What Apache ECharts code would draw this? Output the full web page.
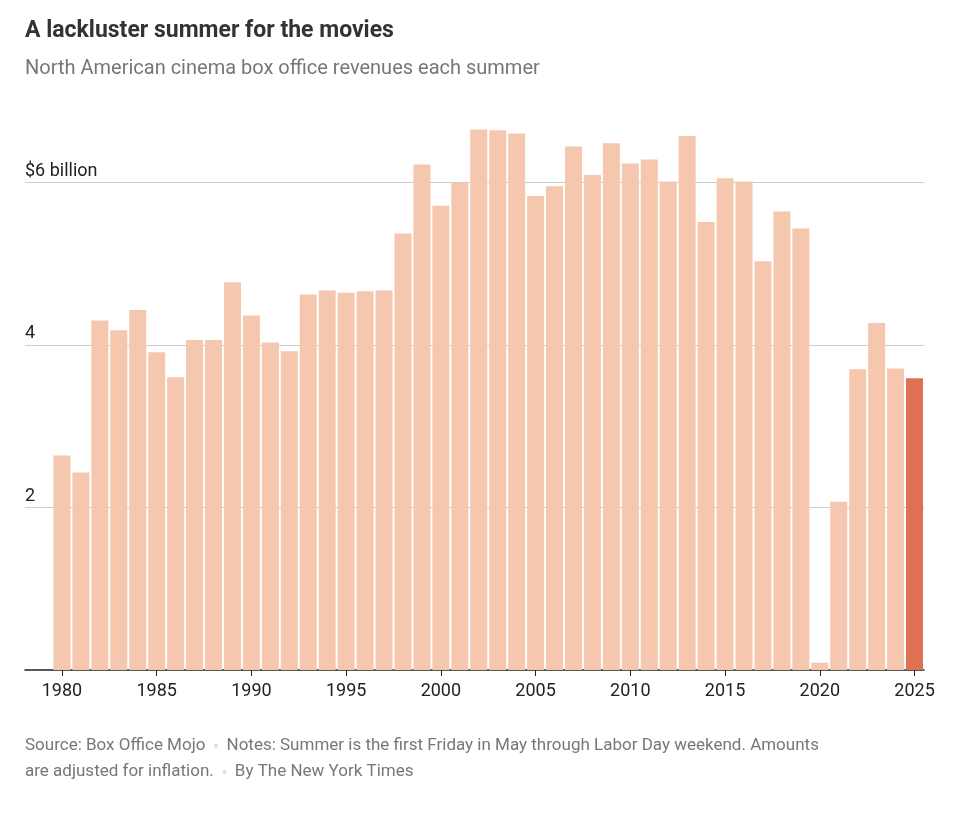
<!DOCTYPE html>
<html>
<head>
<meta charset="utf-8">
<script src="https://cdn.jsdelivr.net/npm/echarts@6/dist/echarts.min.js"></script>
<style>
  html, body { margin: 0; padding: 0; background: #fff; }
  #chart { width: 970px; height: 814px; }
</style>
</head>
<body>
<div id="chart"></div>
<script>
// summer box office, billions (inflation-adjusted)
const years = [];
for (let y = 1980; y <= 2025; y++) years.push(y);
const revenues = [
    2.64, 2.43, 4.30, 4.18, 4.43, 3.91, 3.60, 4.06, 4.06, 4.77,
    4.36, 4.03, 3.92, 4.62, 4.67, 4.64, 4.66, 4.67, 5.37, 6.22,
    5.71, 6.00, 6.65, 6.64, 6.60, 5.83, 5.95, 6.44, 6.09, 6.48,
    6.23, 6.28, 6.01, 6.57, 5.51, 6.05, 6.01, 5.03, 5.64, 5.43,
    0.09, 2.07, 3.70, 4.27, 3.71, 3.59,
];
const xTicks = [1980, 1985, 1990, 1995, 2000, 2005, 2010, 2015, 2020, 2025];
const yTicks = [2, 4, 6];

const chart = echarts.init(document.getElementById('chart'));

const barData = years.map((y, i) => ({
    value: [y, revenues[i]],
    itemStyle: { color: y === 2025 ? '#dd7152' : '#f4c7ae' },
}));

chart.setOption({
    animation: false,
    textStyle: { fontFamily: 'Roboto, "Liberation Sans", sans-serif' },
    grid: { left: 25, right: 46, top: 101, bottom: 144 },
    xAxis: {
        type: 'value',
        min: 1978.05,
        max: 2025.5,
        splitLine: { show: false },
        axisLine: { show: true, lineStyle: { color: '#222', width: 1.5 } },
        axisTick: { show: true, customValues: xTicks, length: 6, lineStyle: { color: '#222' } },
        axisLabel: { customValues: xTicks, color: '#222', fontSize: 18, margin: 12, formatter: v => String(v) },
    },
    yAxis: {
        type: 'value',
        min: 0,
        max: 7,
        interval: 2,
        axisLine: { show: false },
        axisTick: { show: false },
        splitLine: { show: true, showMaxLine: false, showMinLine: false, lineStyle: { color: '#cccccc', width: 1 } },
        axisLabel: {
            customValues: yTicks,
            inside: true,
            margin: 0,
            verticalAlign: 'bottom',
            padding: [0, 0, 2, 0],
            color: '#222',
            fontSize: 18,
            formatter: v => (v === 6 ? '$6 billion' : String(v)),
        },
    },
    series: [{
        type: 'bar',
        data: barData,
        barWidth: 17,
    }],
    graphic: [
        {
            type: 'text', left: 25, top: 20,
            style: { text: 'A lackluster summer for the movies', fontSize: 23, fontWeight: 'bold', fill: '#333', fontFamily: 'Roboto, sans-serif' },
        },
        {
            type: 'text', left: 25, top: 59,
            style: { text: 'North American cinema box office revenues each summer', fontSize: 20, fill: '#777', fontFamily: 'Roboto, sans-serif' },
        },
        {
            type: 'text', left: 25, top: 733,
            style: {
                text: 'Source: Box Office Mojo  {d|■}  Notes: Summer is the first Friday in May through Labor Day weekend. Amounts\nare adjusted for inflation.  {d|■}  By The New York Times',
                fontSize: 17, lineHeight: 26, fill: '#777', fontFamily: 'Roboto, sans-serif',
                rich: { d: { fontSize: 7, fill: '#ddd' } },
            },
        },
    ],
});
</script>
</body>
</html>
